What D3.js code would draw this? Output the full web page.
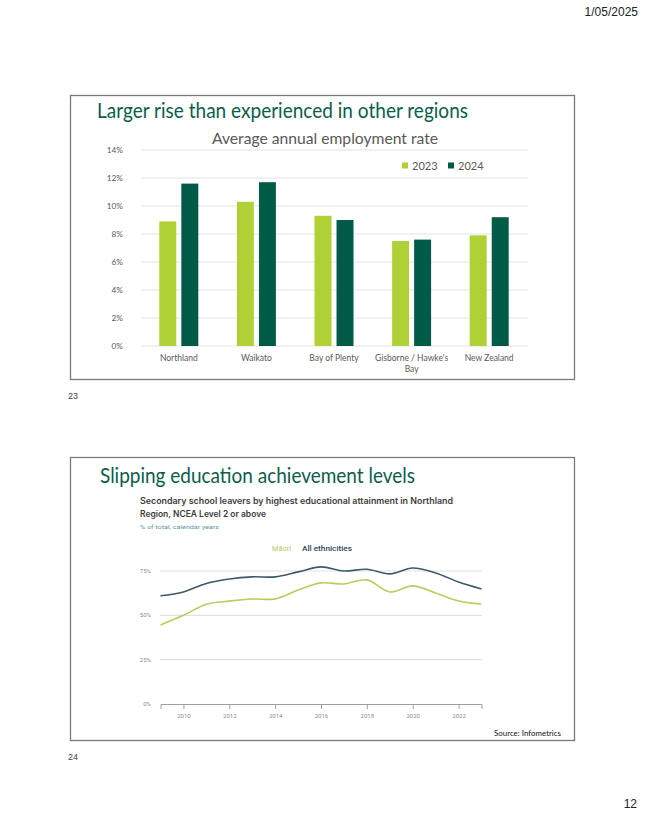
<!DOCTYPE html>
<html>
<head>
<meta charset="utf-8">
<script src="https://cdn.jsdelivr.net/npm/d3@7"></script>
<style>
  body { margin: 0; background: #fff; }
  svg { display: block; }
</style>
</head>
<body>
<div id="page"></div>
<script>
// slide 23 - employment rate
const regions = ["Northland", "Waikato", "Bay of Plenty", "Gisborne / Hawke's Bay", "New Zealand"];
const years = ["2023", "2024"];
const rate2023 = [8.9, 10.3, 9.3, 7.5, 7.9];
const rate2024 = [11.6, 11.7, 9.0, 7.6, 9.2];
const rateTicks = [0, 2, 4, 6, 8, 10, 12, 14];

// slide 24 - NCEA level 2
const eduYears = [2009, 2010, 2011, 2012, 2013, 2014, 2015, 2016, 2017, 2018, 2019, 2020, 2021, 2022, 2023];
const maori = [44.6, 50, 56.2, 58, 59.2, 59.3, 64.3, 68.3, 67.7, 70, 63.2, 66.6, 62.6, 58.1, 56.4];
const allEth = [61, 63.2, 68, 70.5, 71.7, 71.7, 74.5, 77.3, 75, 76, 73.4, 76.7, 73.9, 68.8, 64.9];
const eduTicks = [0, 25, 50, 75];
const yearTicks = [2010, 2012, 2014, 2016, 2018, 2020, 2022];

const W = 645, H = 834;
const svg = d3.select("#page").append("svg").attr("width", W).attr("height", H);
svg.append("rect").attr("width", W).attr("height", H).attr("fill", "#fff");

const sans = "'Liberation Sans', Arial, sans-serif";
const cal = "Lato, 'Open Sans', sans-serif";

// page header / footer
svg.append("text").attr("x", 638).attr("y", 16).attr("text-anchor", "end")
  .style("font", `12px ${sans}`).attr("fill", "#222").text("1/05/2025");
svg.append("text").attr("x", 637).attr("y", 808).attr("text-anchor", "end")
  .style("font", `12px ${sans}`).attr("fill", "#222").text("12");
svg.append("text").attr("x", 68).attr("y", 399)
  .style("font", `9px ${sans}`).attr("fill", "#444").text("23");
svg.append("text").attr("x", 68).attr("y", 760)
  .style("font", `9px ${sans}`).attr("fill", "#444").text("24");

// frames
[[95, 379], [457, 740]].forEach(([t, b]) => {
  svg.append("rect").attr("x", 70.5).attr("y", t + 0.5).attr("width", 504).attr("height", b - t)
    .attr("fill", "#fff").attr("stroke", "#7a7a7a").attr("stroke-width", 1.3);
});

// ---------- chart 1 ----------
const g1 = svg.append("g");
g1.append("text").attr("x", 97).attr("y", 118).attr("textLength", 371).attr("lengthAdjust", "spacingAndGlyphs")
  .style("font", `21px ${cal}`).attr("fill", "#0b5d4c").text("Larger rise than experienced in other regions");
g1.append("text").attr("x", 212).attr("y", 144).attr("textLength", 226).attr("lengthAdjust", "spacingAndGlyphs")
  .style("font", `15px ${cal}`).attr("fill", "#595959").text("Average annual employment rate");

const x1 = d3.scaleBand().domain(regions).range([140, 528]).paddingInner(0).paddingOuter(0);
const y1 = d3.scaleLinear().domain([0, 14]).range([346, 150]);
const xs1 = d3.scaleBand().domain(years).range([0, 39]).paddingInner(0.23);

g1.append("g").selectAll("line").data(rateTicks).join("line")
  .attr("x1", 141).attr("x2", 528).attr("y1", d => y1(d)).attr("y2", d => y1(d))
  .attr("stroke", "#e3e3e3").attr("stroke-width", 1);
g1.append("g").selectAll("text").data(rateTicks).join("text")
  .attr("x", 123).attr("y", d => y1(d) + 3).attr("text-anchor", "end")
  .style("font", `8.3px ${cal}`).attr("fill", "#595959").text(d => d + "%");

const series1 = [rate2023, rate2024];
const colors1 = ["#afd135", "#005a48"];
years.forEach((yr, si) => {
  g1.append("g").selectAll("rect").data(regions).join("rect")
    .attr("x", d => x1(d) + x1.bandwidth() / 2 - 19.5 + xs1(yr))
    .attr("width", xs1.bandwidth())
    .attr("y", (d, i) => y1(series1[si][i]))
    .attr("height", (d, i) => y1(0) - y1(series1[si][i]))
    .attr("fill", colors1[si]);
});

g1.append("g").selectAll("text").data(regions).join("text")
  .attr("text-anchor", "middle").style("font", `8.5px ${cal}`).attr("fill", "#595959")
  .each(function (d) {
    const cx = x1(d) + x1.bandwidth() / 2;
    const lines = d === "Gisborne / Hawke's Bay" ? ["Gisborne / Hawke's", "Bay"] : [d];
    d3.select(this).selectAll("tspan").data(lines).join("tspan")
      .attr("x", cx).attr("y", (l, i) => 360.5 + i * 11.5).text(l => l);
  });

// legend
const leg1 = g1.append("g");
[[402, "2023"], [448, "2024"]].forEach(([lx, lbl], i) => {
  leg1.append("rect").attr("x", lx).attr("y", 162.5).attr("width", 6).attr("height", 6).attr("fill", colors1[i]);
  leg1.append("text").attr("x", lx + 10).attr("y", 169.5).style("font", `11px ${cal}`).attr("fill", "#595959").text(lbl);
});

// ---------- chart 2 ----------
const g2 = svg.append("g");
g2.append("text").attr("x", 100).attr("y", 483).attr("textLength", 315).attr("lengthAdjust", "spacingAndGlyphs")
  .style("font", `21px ${cal}`).attr("fill", "#0b5d4c").text("Slipping education achievement levels");
g2.append("text").attr("x", 140).attr("y", 504).attr("textLength", 313).attr("lengthAdjust", "spacingAndGlyphs")
  .style("font", `600 8.5px Inter, Roboto, sans-serif`).attr("fill", "#3c3c3c")
  .text("Secondary school leavers by highest educational attainment in Northland");
g2.append("text").attr("x", 140).attr("y", 516.5).attr("textLength", 126).attr("lengthAdjust", "spacingAndGlyphs")
  .style("font", `600 8.5px Inter, Roboto, sans-serif`).attr("fill", "#3c3c3c")
  .text("Region, NCEA Level 2 or above");
g2.append("text").attr("x", 140).attr("y", 529).attr("textLength", 79).attr("lengthAdjust", "spacingAndGlyphs")
  .style("font", `6px Roboto, sans-serif`).attr("fill", "#5e9aa3").text("% of total, calendar years");

g2.append("text").attr("x", 272).attr("y", 551).attr("textLength", 19).attr("lengthAdjust", "spacingAndGlyphs")
  .style("font", `7px Roboto, sans-serif`).attr("fill", "#b3cc6a").text("Māori");
g2.append("text").attr("x", 302).attr("y", 551).attr("textLength", 50).attr("lengthAdjust", "spacingAndGlyphs")
  .style("font", `500 7px Roboto, sans-serif`).attr("fill", "#2e4657").text("All ethnicities");

const x2 = d3.scaleLinear().domain([2009, 2023]).range([160.5, 481.5]);
const y2 = d3.scaleLinear().domain([0, 75]).range([704, 571]);

g2.append("g").selectAll("line").data(eduTicks.filter(d => d > 0)).join("line")
  .attr("x1", 160).attr("x2", 482).attr("y1", d => y2(d)).attr("y2", d => y2(d))
  .attr("stroke", "#e2e2e2").attr("stroke-width", 1.2);
g2.append("g").selectAll("text").data(eduTicks).join("text")
  .attr("x", 151).attr("y", d => y2(d) + 2).attr("text-anchor", "end")
  .style("font", `6px Roboto, sans-serif`).attr("fill", "#8a8a8a").text(d => d + "%");

const xAxis = g2.append("g").attr("transform", `translate(0,${y2(0)})`)
  .call(d3.axisBottom(x2).tickValues(yearTicks).tickFormat(d3.format("d")).tickSize(5).tickPadding(5));
xAxis.select(".domain").attr("stroke", "#a0a0a0").attr("stroke-width", 1);
xAxis.selectAll(".tick line").attr("stroke", "#a0a0a0");
xAxis.selectAll("text").style("font", `6px Roboto, sans-serif`).attr("fill", "#8a8a8a");

const line2 = d3.line().x((d, i) => x2(eduYears[i])).y(d => y2(d)).curve(d3.curveCatmullRom.alpha(0.5));
g2.append("path").datum(maori).attr("d", line2).attr("fill", "none").attr("stroke", "#b5cf5f").attr("stroke-width", 1.6);
g2.append("path").datum(allEth).attr("d", line2).attr("fill", "none").attr("stroke", "#3d5a6b").attr("stroke-width", 1.6);

g2.append("text").attr("x", 494).attr("y", 736).attr("textLength", 67).attr("lengthAdjust", "spacingAndGlyphs")
  .style("font", `8px ${cal}`).attr("fill", "#111").text("Source: Infometrics");
</script>
</body>
</html>
